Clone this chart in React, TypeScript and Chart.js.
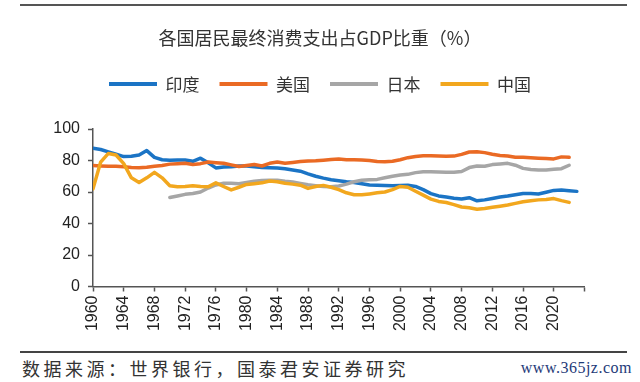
import React, { useEffect, useRef } from "react";
import { Chart, registerables } from "chart.js";

Chart.register(...registerables);

const TITLE = "各国居民最终消费支出占GDP比重（%）";
const SOURCE = "数据来源：世界银行，国泰君安证券研究";
const WATERMARK = "www.365jz.com";
const SERIES_NAMES = ["印度", "美国", "日本", "中国"];
const SERIES_COLORS = ["#1b74c5", "#ea6a24", "#a6a6a6", "#f2a71e"];

const YEARS = [
  1960, 1961, 1962, 1963, 1964, 1965, 1966, 1967, 1968, 1969,
  1970, 1971, 1972, 1973, 1974, 1975, 1976, 1977, 1978, 1979,
  1980, 1981, 1982, 1983, 1984, 1985, 1986, 1987, 1988, 1989,
  1990, 1991, 1992, 1993, 1994, 1995, 1996, 1997, 1998, 1999,
  2000, 2001, 2002, 2003, 2004, 2005, 2006, 2007, 2008, 2009,
  2010, 2011, 2012, 2013, 2014, 2015, 2016, 2017, 2018, 2019,
  2020, 2021, 2022, 2023,
];

const INDIA = [
  87.8, 87.0, 85.5, 84.0, 82.5, 82.7, 83.5, 86.3, 82.0, 80.5,
  80.2, 80.3, 80.3, 79.5, 81.5, 78.5, 75.3, 75.8, 76.0, 76.5,
  76.5, 76.0, 75.6, 75.4, 75.3, 74.8, 74.0, 73.2, 71.5, 70.0,
  68.8, 67.8, 67.2, 66.5, 66.0, 65.3, 64.5, 64.3, 64.2, 64.0,
  64.2, 64.3, 63.5, 61.5, 59.0, 57.5, 56.8, 56.0, 55.5, 56.4,
  54.4, 55.0, 55.9, 56.8, 57.4, 58.3, 59.1, 59.0, 58.7, 59.8,
  61.0, 61.2, 60.8, 60.4,
];

const USA = [
  76.8, 76.5, 76.3, 76.4, 76.0, 75.5, 75.4, 75.7, 76.4, 76.8,
  77.7, 78.0, 78.3, 77.5, 78.0, 79.0, 78.6, 78.3, 77.2, 76.2,
  76.8, 77.5, 76.5, 78.2, 79.0, 78.3, 78.8, 79.3, 79.7, 79.8,
  80.2, 80.6, 80.9, 80.5, 80.5, 80.3, 80.0, 79.3, 79.2, 79.5,
  80.5, 81.8, 82.6, 83.0, 83.0, 82.8, 82.7, 82.8, 83.9, 85.4,
  85.5, 85.0, 84.0, 83.2, 82.8, 82.0, 82.0, 81.8, 81.5, 81.3,
  81.0, 82.3, 82.0,
];

const JAPAN = [
  null, null, null, null, null, null, null, null, null, null,
  56.5, 57.5, 58.5, 59.0, 60.0, 62.5, 64.5, 65.5, 65.5, 65.3,
  66.0, 66.8, 67.3, 67.5, 67.5, 66.8, 66.3, 65.4, 64.6, 64.0,
  63.5, 63.3, 63.8, 65.0, 66.5, 67.5, 67.8, 68.0, 69.0, 70.0,
  70.8, 71.2, 72.3, 72.8, 72.8, 72.7, 72.6, 72.5, 73.0, 75.5,
  76.5, 76.3, 77.4, 77.8, 78.2, 77.0, 75.0, 74.3, 74.0, 74.0,
  74.5, 74.8, 77.0,
];

const CHINA = [
  62.0, 79.0, 84.5, 83.5, 78.0, 69.0, 66.0, 69.0, 72.5, 69.0,
  64.0, 63.3, 63.5, 64.0, 63.5, 63.3, 65.8, 63.5, 61.3, 63.0,
  64.8, 65.3, 65.8, 67.0, 66.5, 65.5, 65.0, 64.3, 62.3, 63.5,
  64.2, 63.0, 61.5, 59.5, 58.3, 58.2, 58.8, 59.5, 60.0, 61.5,
  63.5, 63.0, 60.5, 58.0, 55.5, 54.0, 53.3, 52.0, 50.5, 50.0,
  49.0, 49.5, 50.3, 51.0, 51.8, 52.8, 53.8, 54.5, 55.0, 55.3,
  55.8, 54.5, 53.4,
];

const SERIES = [INDIA, USA, JAPAN, CHINA];
const X_TICK_YEARS = [1960, 1964, 1968, 1972, 1976, 1980, 1984, 1988, 1992, 1996, 2000, 2004, 2008, 2012, 2016, 2020];
const X_MIN = 1960;
const X_MAX = 2024;
const Y_MIN = 0;
const Y_MAX = 100;
const Y_STEP = 20;

const CJK = "'Noto Sans CJK SC', 'Noto Sans', sans-serif";
const LATIN = "'Liberation Sans', Arial, sans-serif";

export default function App() {
  const canvasRef = useRef<HTMLCanvasElement | null>(null);

  useEffect(() => {
    const canvas = canvasRef.current;
    if (!canvas) return;
    const datasets = SERIES.map((values, i) => ({
      label: SERIES_NAMES[i],
      data: values.map((v, j) => ({ x: YEARS[j], y: v })),
      borderColor: SERIES_COLORS[i],
      backgroundColor: SERIES_COLORS[i],
      borderWidth: 3.5,
      pointRadius: 0,
      tension: 0,
      borderJoinStyle: "round" as const,
      borderCapStyle: "round" as const,
      spanGaps: false,
      order: SERIES.length - i,
    }));

    const chart = new Chart(canvas, {
      type: "line",
      data: { datasets },
      options: {
        responsive: false,
        animation: false,
        devicePixelRatio: 1,
        layout: { padding: { left: 0, right: 0, top: 0, bottom: 0 } },
        plugins: {
          tooltip: { enabled: false },
          title: {
            display: true,
            text: TITLE,
            color: "#333333",
            font: { family: CJK, size: 18, weight: "normal" },
            padding: { top: 27, bottom: 7 },
          },
          subtitle: {
            display: true,
            text: " ",
            font: { size: 1 },
            padding: { top: 25.2, bottom: 0 },
            weight: 500,
          } as any,
          legend: {
            display: true,
            position: "top",
            align: "center",
            labels: {
              boxWidth: 48,
              boxHeight: 4,
              padding: 20,
              color: "#333333",
              font: { family: CJK, size: 17 },
              generateLabels: (c: any) =>
                c.data.datasets.map((ds: any, i: number) => ({
                  text: ds.label,
                  fillStyle: ds.borderColor,
                  strokeStyle: ds.borderColor,
                  lineWidth: 0,
                  fontColor: "#333333",
                  hidden: false,
                  datasetIndex: i,
                })),
            },
          },
        },
        scales: {
          x: {
            type: "linear",
            min: X_MIN,
            max: X_MAX,
            grid: {
              display: true,
              drawOnChartArea: false,
              drawTicks: true,
              tickLength: 5,
              tickColor: "#555555",
              tickWidth: 1.5,
            },
            border: { display: true, color: "#555555", width: 1.5 },
            ticks: {
              stepSize: 4,
              autoSkip: false,
              minRotation: 90,
              maxRotation: 90,
              padding: 4,
              color: "#222222",
              font: { family: LATIN, size: 16 },
              callback: (v: any) => (X_TICK_YEARS.includes(Number(v)) ? String(v) : ""),
            },
            afterFit: (s: any) => {
              s.height = 58.5;
            },
          },
          y: {
            type: "linear",
            min: Y_MIN,
            max: Y_MAX,
            grid: {
              display: true,
              drawOnChartArea: false,
              drawTicks: true,
              tickLength: 5,
              tickColor: "#555555",
              tickWidth: 1.5,
            },
            border: { display: true, color: "#555555", width: 1.5 },
            ticks: {
              stepSize: Y_STEP,
              padding: 8,
              color: "#222222",
              font: { family: LATIN, size: 16 },
            },
            afterFit: (s: any) => {
              s.width = 93;
            },
          },
          yRight: {
            type: "linear",
            position: "right",
            display: true,
            min: Y_MIN,
            max: Y_MAX,
            grid: { display: false, drawTicks: false },
            border: { display: false },
            ticks: { display: false },
            afterFit: (s: any) => {
              s.width = 55.5;
            },
          },
        },
      },
    });
    return () => chart.destroy();
  }, []);

  return (
    <div
      style={{
        position: "absolute",
        left: 0,
        top: 0,
        width: 640,
        height: 382,
        background: "#ffffff",
        overflow: "hidden",
      }}
    >
      <div style={{ position: "absolute", left: 20, top: 4, width: 607, height: 2, background: "#555555" }} />
      <canvas ref={canvasRef} width={640} height={345} style={{ position: "absolute", left: 0, top: 0 }} />
      <div style={{ position: "absolute", left: 20, top: 351, width: 607, height: 2, background: "#444444" }} />
      <div
        style={{
          position: "absolute",
          left: 22,
          top: 357,
          fontFamily: CJK,
          fontSize: 18,
          lineHeight: "22px",
          letterSpacing: "3.5px",
          color: "#333333",
          whiteSpace: "nowrap",
        }}
      >
        {SOURCE}
      </div>
      <div
        style={{
          position: "absolute",
          right: 8,
          top: 358,
          fontFamily: "'Liberation Serif', 'DejaVu Serif', serif",
          fontSize: 16,
          lineHeight: "20px",
          letterSpacing: "0.5px",
          color: "#1e3a78",
          whiteSpace: "nowrap",
        }}
      >
        {WATERMARK}
      </div>
    </div>
  );
}
